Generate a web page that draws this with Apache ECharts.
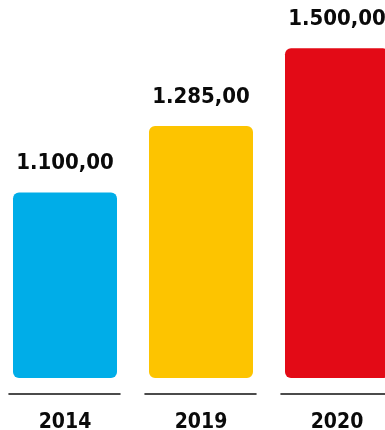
<!DOCTYPE html>
<html><head><meta charset="utf-8">
<script src="https://cdn.jsdelivr.net/npm/echarts@6/dist/echarts.min.js"></script>
<style>html,body{margin:0;padding:0;background:#fff;overflow:hidden;width:385px;height:430px}</style>
</head><body><div id="c" style="width:385px;height:430px"></div>
<script>
const categories = ['2014', '2019', '2020'];
const values = [1100, 1285, 1500];
const barColors = ['#00ADE8', '#FDC400', '#E30A16'];
const FONT = "'DejaVu Sans Condensed', 'Open Sans', sans-serif";

function fmtDE(v) {
  const parts = v.toFixed(2).split('.');
  const intPart = parts[0].replace(/\B(?=(\d{3})+(?!\d))/g, '.');
  return intPart + ',' + parts[1];
}

const chart = echarts.init(document.getElementById('c'), null, { renderer: 'canvas' });
chart.setOption({
  animation: false,
  backgroundColor: '#fff',
  grid: { left: -3, right: -20, top: 0, bottom: 52, containLabel: false, outerBoundsMode: 'none' },
  xAxis: {
    type: 'category',
    data: categories,
    offset: 16,
    axisLine: { show: true, lineStyle: { color: '#111', width: 1.6, type: [111, 25], dashOffset: 124 } },
    axisTick: { show: false },
    axisLabel: { fontSize: 21, fontWeight: 'bold', color: '#0a0a0a', margin: 18, fontFamily: FONT }
  },
  yAxis: { type: 'value', min: 586, max: 1634, startValue: 586, show: false, splitLine: { show: false } },
  series: [{
    type: 'bar',
    data: values.map((v, i) => ({ value: v, itemStyle: { color: barColors[i] } })),
    barWidth: 104,
    itemStyle: { borderRadius: 6 },
    label: {
      show: true, position: 'top', distance: 18,
      formatter: p => fmtDE(p.value),
      fontSize: 22, fontWeight: 'bold', color: '#0a0a0a', fontFamily: FONT
    }
  }]
});
</script></body></html>
